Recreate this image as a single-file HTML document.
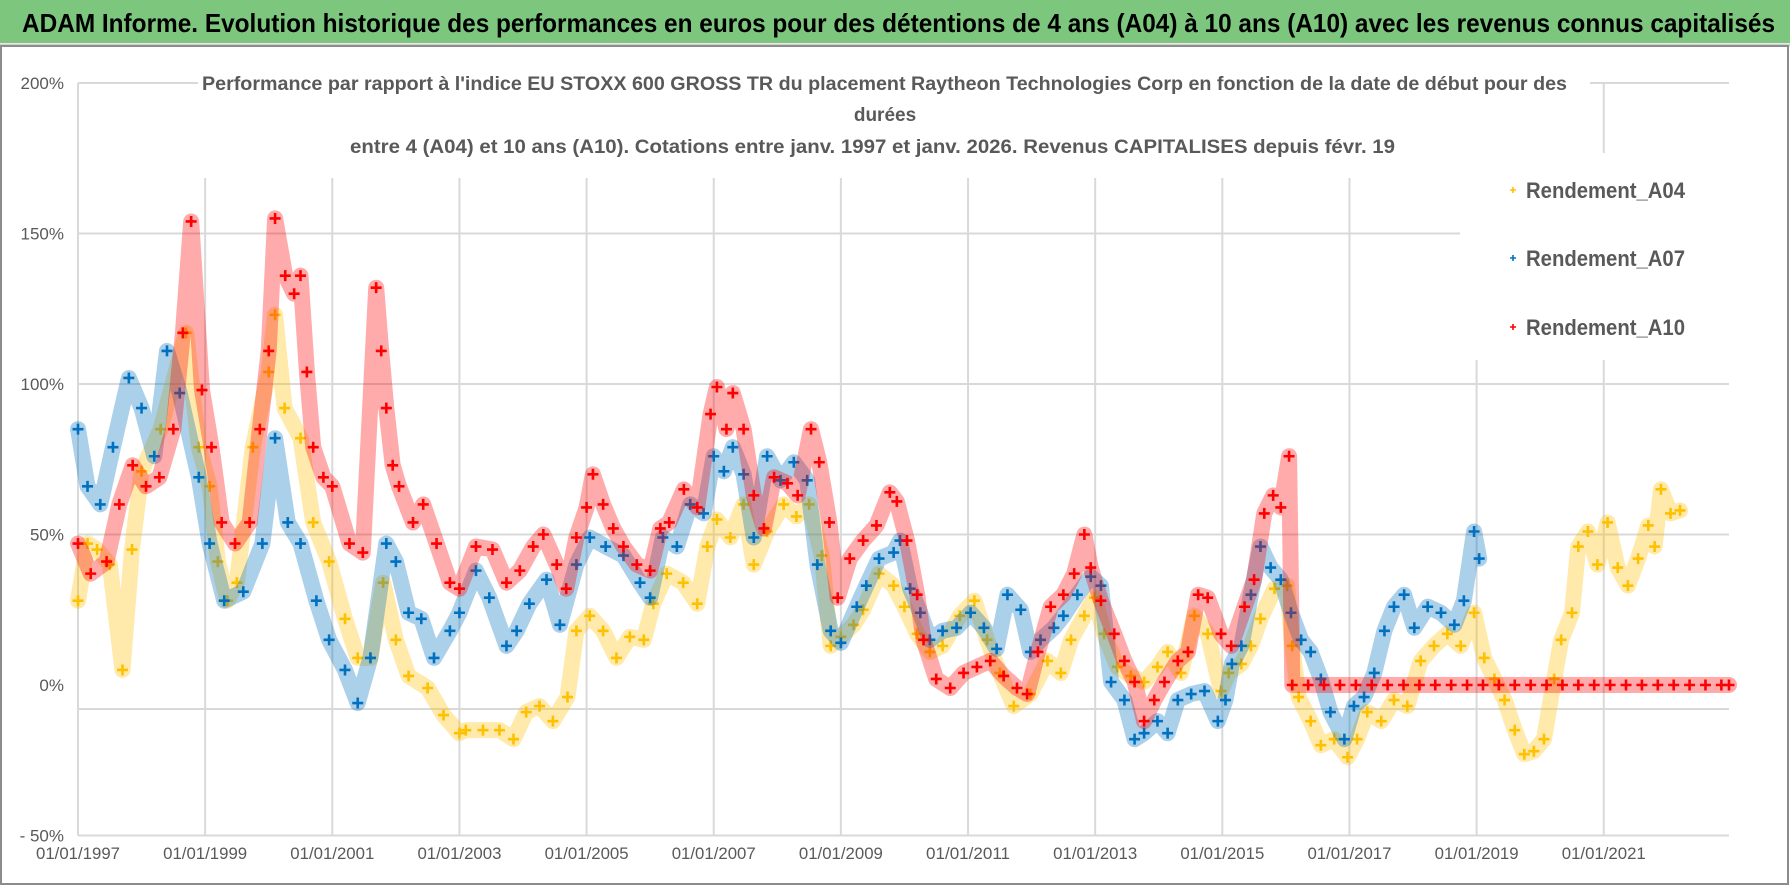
<!DOCTYPE html>
<html><head><meta charset="utf-8"><style>
html,body{margin:0;padding:0;background:#fff}
svg{display:block}
text{font-family:"Liberation Sans Narrow","Liberation Sans",sans-serif}
</style></head><body>
<svg id="chart" width="1790" height="886" viewBox="0 0 1790 886">
<rect x="0" y="0" width="1790" height="886" fill="#fff"/>
<rect x="0" y="0" width="1790" height="43" fill="#7DC67E"/>
<line x1="0" y1="45" x2="1790" y2="45" stroke="#d0d0d0" stroke-width="3"/>
<text x="22" y="32" font-size="26" font-weight="bold" fill="#000" textLength="1753" lengthAdjust="spacingAndGlyphs">ADAM Informe. Evolution historique des performances en euros pour des détentions de 4 ans (A04) à 10 ans (A10) avec les revenus connus capitalisés</text>
<rect x="1" y="46" width="1787" height="838" fill="none" stroke="#8c8c8c" stroke-width="2"/>
<g id="grid"></g>
<g id="series"></g>
<rect x="198" y="68" width="1392" height="110" fill="#fff"/>
<rect x="1460" y="153" width="280" height="207" fill="#fff"/>
<g font-size="19" font-weight="bold" fill="#595959">
<text x="202" y="90" textLength="1365" lengthAdjust="spacingAndGlyphs">Performance par rapport à l'indice EU STOXX 600 GROSS TR  du placement Raytheon Technologies Corp en fonction de la date de début pour des</text>
<text x="885" y="121" text-anchor="middle">durées</text>
<text x="350" y="153" textLength="1045" lengthAdjust="spacingAndGlyphs">entre 4 (A04) et 10 ans (A10).  Cotations entre janv. 1997 et janv. 2026. Revenus CAPITALISES depuis févr. 19</text>
</g>
<g id="axes"></g>
<g id="legend"></g>
</svg>
<script>
const A04_dates=[1997.0,1997.15,1997.3,1997.5,1997.7,1997.85,1998.0,1998.3,1998.7,1998.9,1999.07,1999.2,1999.35,1999.5,1999.75,2000.0,2000.1,2000.25,2000.5,2000.7,2000.95,2001.2,2001.4,2001.6,2001.8,2002.0,2002.2,2002.5,2002.75,2003.0,2003.1,2003.37,2003.63,2003.85,2004.05,2004.26,2004.47,2004.7,2004.84,2005.05,2005.26,2005.47,2005.68,2005.9,2006.05,2006.26,2006.52,2006.74,2006.9,2007.05,2007.26,2007.47,2007.63,2007.84,2008.1,2008.3,2008.5,2008.7,2008.84,2009.0,2009.2,2009.35,2009.6,2009.83,2010.0,2010.2,2010.4,2010.6,2010.87,2011.1,2011.3,2011.5,2011.72,2011.98,2012.25,2012.46,2012.62,2012.83,2012.99,2013.14,2013.35,2013.56,2013.77,2013.98,2014.14,2014.35,2014.56,2014.77,2014.98,2015.1,2015.3,2015.45,2015.6,2015.82,2016.02,2016.1,2016.2,2016.39,2016.55,2016.76,2016.97,2017.12,2017.28,2017.5,2017.7,2017.91,2018.12,2018.33,2018.54,2018.75,2018.96,2019.12,2019.28,2019.44,2019.6,2019.75,2019.9,2020.06,2020.22,2020.33,2020.5,2020.6,2020.75,2020.9,2021.06,2021.22,2021.38,2021.54,2021.7,2021.8,2021.9,2022.05,2022.2];
const A04_values=[28,47,45,40,5,45,71,85,117,79,66,41,28,34,79,104,123,92,82,54,41,22,9,9,34,15,3,-1,-10,-16,-15,-15,-15,-18,-9,-7,-12,-4,18,23,18,9,16,15,27,37,34,27,46,55,49,60,40,51,60,56,60,43,13,16,20,25,37,33,26,17,11,13,23,28,15,4,-7,-3,8,4,15,23,29,17,6,3,1,6,11,4,23,17,-2,4,7,13,22,32,33,13,-4,-12,-20,-18,-24,-18,-9,-12,-5,-7,8,13,17,13,24,9,2,-5,-15,-23,-22,-18,2,15,24,46,51,40,54,39,33,42,53,46,65,57,58];
const A07_dates=[1997.0,1997.15,1997.35,1997.55,1997.8,1998.0,1998.2,1998.4,1998.6,1998.9,1999.07,1999.3,1999.6,1999.9,2000.1,2000.3,2000.5,2000.75,2000.95,2001.2,2001.4,2001.6,2001.85,2002.0,2002.2,2002.4,2002.6,2002.85,2003.0,2003.26,2003.47,2003.74,2003.9,2004.1,2004.37,2004.58,2004.84,2005.05,2005.3,2005.58,2005.84,2006.0,2006.2,2006.42,2006.63,2006.84,2007.0,2007.16,2007.3,2007.47,2007.63,2007.84,2008.05,2008.26,2008.47,2008.63,2008.84,2009.0,2009.25,2009.4,2009.6,2009.83,2009.93,2010.09,2010.25,2010.4,2010.6,2010.82,2011.04,2011.25,2011.45,2011.62,2011.83,2011.98,2012.14,2012.35,2012.5,2012.72,2012.93,2013.09,2013.25,2013.46,2013.62,2013.77,2013.98,2014.14,2014.3,2014.51,2014.72,2014.93,2015.05,2015.15,2015.3,2015.45,2015.6,2015.76,2015.92,2016.08,2016.24,2016.39,2016.55,2016.7,2016.92,2017.07,2017.23,2017.39,2017.55,2017.7,2017.86,2018.02,2018.23,2018.44,2018.65,2018.8,2018.96,2019.04];
const A07_values=[85,66,60,79,102,92,76,111,97,69,47,28,31,47,82,54,47,28,15,5,-6,9,47,41,24,22,9,18,24,38,29,13,18,27,35,20,40,49,46,43,34,29,49,46,60,57,76,71,79,70,49,76,68,74,68,40,18,14,26,33,42,44,48,32,24,15,18,19,24,19,12,30,25,11,15,19,23,30,36,33,1,-5,-18,-16,-12,-16,-5,-3,-2,-12,-5,7,13,30,46,39,35,24,15,11,2,-9,-18,-7,-4,4,18,26,30,19,26,24,20,28,51,42];
const A10_dates=[1997.0,1997.2,1997.45,1997.65,1997.86,1998.07,1998.28,1998.5,1998.65,1998.78,1998.95,1999.1,1999.26,1999.47,1999.7,1999.86,2000.0,2000.1,2000.26,2000.4,2000.5,2000.6,2000.7,2000.86,2001.0,2001.27,2001.48,2001.69,2001.77,2001.85,2001.95,2002.05,2002.27,2002.43,2002.64,2002.85,2003.0,2003.26,2003.52,2003.74,2003.95,2004.16,2004.32,2004.53,2004.68,2004.84,2005.0,2005.1,2005.26,2005.42,2005.58,2005.79,2006.0,2006.16,2006.3,2006.53,2006.74,2006.95,2007.05,2007.2,2007.3,2007.47,2007.63,2007.79,2007.95,2008.16,2008.32,2008.53,2008.66,2008.82,2008.95,2009.14,2009.35,2009.56,2009.77,2009.88,2010.04,2010.2,2010.3,2010.5,2010.72,2010.93,2011.14,2011.35,2011.56,2011.77,2011.93,2012.1,2012.3,2012.5,2012.67,2012.83,2012.93,2013.09,2013.3,2013.46,2013.62,2013.77,2013.93,2014.09,2014.3,2014.46,2014.62,2014.77,2014.98,2015.14,2015.35,2015.5,2015.66,2015.8,2015.92,2016.05,2016.1,2016.35,2016.6,2016.85,2017.1,2017.35,2017.6,2017.85,2018.1,2018.35,2018.6,2018.85,2019.1,2019.35,2019.6,2019.85,2020.1,2020.35,2020.6,2020.85,2021.1,2021.35,2021.6,2021.85,2022.1,2022.35,2022.6,2022.85,2022.97];
const A10_values=[47,37,41,60,73,66,69,85,117,154,98,79,54,47,54,85,111,155,136,130,136,104,79,69,66,47,44,132,111,92,73,66,54,60,47,34,32,46,45,34,38,46,50,40,32,49,59,70,60,52,46,40,38,52,54,65,59,90,99,85,97,85,63,52,69,67,63,85,74,54,29,42,48,53,64,61,48,30,15,2,-1,4,6,8,3,-1,-3,11,26,30,37,50,39,28,17,8,1,-12,-5,1,8,11,30,29,17,13,26,35,57,63,59,76,0,0,0,0,0,0,0,0,0,0,0,0,0,0,0,0,0,0,0,0,0,0,0,0,0,0,0,0,0];
const yTicks=[200,150,100,50,0,-50];
const yTickLabels=["200%","150%","100%","50%","0%","- 50%"];
const xTickYears=[1997,1999,2001,2003,2005,2007,2009,2011,2013,2015,2017,2019,2021];
const xTickLabels=["01/01/1997","01/01/1999","01/01/2001","01/01/2003","01/01/2005","01/01/2007","01/01/2009","01/01/2011","01/01/2013","01/01/2015","01/01/2017","01/01/2019","01/01/2021"];
const seriesNames=["Rendement_A04","Rendement_A07","Rendement_A10"];

const NS="http://www.w3.org/2000/svg";
const X0=78,X1=1729,YR0=1997,YR1=2022.97;
function xs(t){return X0+(t-YR0)*(X1-X0)/(YR1-YR0);}
function ys(v){return 685-v*(685-83)/200;}
function mk(tag,attrs,parent){const e=document.createElementNS(NS,tag);for(const k in attrs)e.setAttribute(k,attrs[k]);parent.appendChild(e);return e;}

const grid=document.getElementById('grid');
[ys(200),ys(150),ys(100),ys(50),709,ys(-50)].forEach((y,i)=>{
  const l=mk('line',{x1:X0,x2:X1,y1:y,y2:y,stroke:'#d9d9d9','stroke-width':2},grid);
  
  
});
xTickYears.forEach(yr=>{
  const l=mk('line',{x1:xs(yr),x2:xs(yr),y1:83,y2:ys(-50),stroke:'#d9d9d9','stroke-width':2},grid);
  
  
});

const axes=document.getElementById('axes');
yTicks.forEach((v,i)=>{
  const t=mk('text',{x:64,y:ys(v)+6,'text-anchor':'end','font-size':17,fill:'#595959'},axes);
  t.textContent=yTickLabels[i];
  
  
});
xTickYears.forEach((yr,i)=>{
  const t=mk('text',{x:xs(yr),y:859,'text-anchor':'middle','font-size':17,fill:'#595959',textLength:84,lengthAdjust:'spacingAndGlyphs'},axes);
  t.textContent=xTickLabels[i];
  
  
});

function plus(g,x,y,s,color,w){
  mk('path',{d:`M${x-s} ${y}H${x+s}M${x} ${y-s}V${y+s}`,stroke:color,'stroke-width':w,fill:'none'},g);
}
const sg=document.getElementById('series');
function drawSeries(dates,vals,color,name){
  const g=mk('g',{},sg);
  
  
  let pts=dates.map((d,i)=>xs(d).toFixed(1)+','+ys(vals[i]).toFixed(1)).join(' ');
  mk('polyline',{points:pts,fill:'none',stroke:color,'stroke-width':16,'stroke-opacity':0.33,'stroke-linejoin':'round','stroke-linecap':'round'},g);
  dates.forEach((d,i)=>plus(g,xs(d),ys(vals[i]),5.5,color,2.6));
}
drawSeries(A04_dates,A04_values,'#FFC000','series-a04');
drawSeries(A07_dates,A07_values,'#0070C0','series-a07');
drawSeries(A10_dates,A10_values,'#FF0000','series-a10');

const lg=document.getElementById('legend');
const lcolors=['#FFC000','#0070C0','#FF0000'];
const lys=[190,258,327];
seriesNames.forEach((n,i)=>{
  const g=mk('g',{},lg);
  
  
  plus(g,1513,lys[i],3,lcolors[i],1.6);
  const t=mk('text',{x:1526,y:lys[i]+8,'font-size':22,'font-weight':'bold',fill:'#595959',textLength:159,lengthAdjust:'spacingAndGlyphs'},g);
  t.textContent=n;
});
</script>
</body></html>
